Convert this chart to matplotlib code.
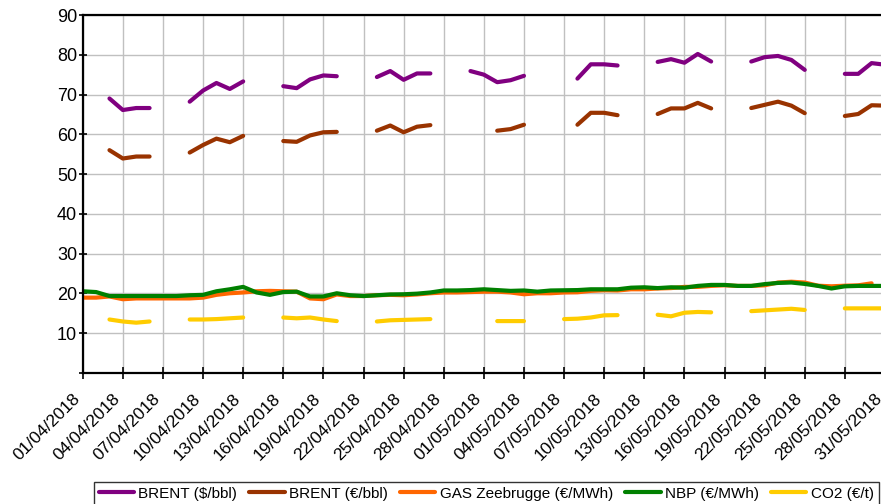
import numpy as np
import pandas as pd
import matplotlib
matplotlib.use('Agg')
import matplotlib.pyplot as plt

plt.rcParams['font.family'] = ['Liberation Sans', 'DejaVu Sans']

nan = np.nan

# daily dates, 01/04/2018 -> 31/05/2018
dates = pd.date_range('2018-04-01', '2018-05-31', freq='D')

brent_usd = [nan, nan, 69.0, 66.1, 66.6, 66.6, nan, nan, 68.2, 71.0,
             72.9, 71.4, 73.3, nan, nan, 72.1, 71.6, 73.8, 74.8, 74.6,
             nan, nan, 74.4, 75.9, 73.7, 75.3, 75.3, nan, nan, 75.9,
             75.0, 73.1, 73.6, 74.7, nan, nan, nan, 74.0, 77.6, 77.6,
             77.3, nan, nan, 78.2, 78.9, 78.0, 80.2, 78.3, nan, nan,
             78.3, 79.4, 79.7, 78.7, 76.2, nan, nan, 75.2, 75.2, 77.9,
             77.5]

brent_eur = [nan, nan, 56.0, 53.9, 54.4, 54.4, nan, nan, 55.4, 57.3,
             58.9, 58.0, 59.6, nan, nan, 58.3, 58.1, 59.7, 60.5, 60.6,
             nan, nan, 60.9, 62.2, 60.5, 61.9, 62.3, nan, nan, nan,
             nan, 60.9, 61.3, 62.4, nan, nan, nan, 62.4, 65.4, 65.4,
             64.8, nan, nan, 65.1, 66.5, 66.5, 67.9, 66.5, nan, nan,
             66.6, 67.4, 68.2, 67.2, 65.3, nan, nan, 64.6, 65.1, 67.3,
             67.2]

gas_zee = [18.9, 18.9, 19.2, 18.5, 18.7, 18.7, 18.7, 18.7, 18.7, 18.9,
           19.6, 20.0, 20.2, 20.5, 20.6, 20.5, 20.4, 18.7, 18.5, 19.7,
           19.3, 19.3, 19.5, 19.6, 19.5, 19.7, 20.0, 20.2, 20.2, 20.3,
           20.4, 20.4, 20.2, 19.75, 20.0, 20.0, 20.2, 20.25, 20.6, 20.75,
           20.7, 21.0, 21.0, 21.2, 21.3, 21.6, 21.6, 21.85, 22.0, 21.85,
           21.85, 22.0, 22.7, 22.9, 22.7, 21.9, 21.75, 21.9, 22.0, 22.5,
           nan]

nbp = [20.5, 20.3, 19.3, 19.3, 19.3, 19.3, 19.3, 19.3, 19.5, 19.6,
       20.5, 21.0, 21.6, 20.2, 19.6, 20.3, 20.4, 19.2, 19.2, 20.0,
       19.5, 19.3, 19.5, 19.7, 19.75, 19.9, 20.2, 20.7, 20.7, 20.8,
       21.0, 20.8, 20.6, 20.7, 20.4, 20.7, 20.75, 20.8, 21.0, 21.0,
       21.0, 21.4, 21.5, 21.3, 21.5, 21.4, 21.85, 22.1, 22.1, 21.85,
       21.85, 22.3, 22.6, 22.7, 22.35, 21.85, 21.2, 21.75, 21.85, 21.85,
       21.85]

co2 = [nan, nan, 13.4, 12.9, 12.6, 12.9, nan, nan, 13.4, 13.4,
       13.5, 13.7, 13.9, nan, nan, 13.9, 13.7, 13.9, 13.4, 13.0,
       nan, nan, 12.9, 13.2, 13.3, 13.4, 13.5, nan, nan, nan,
       nan, 13.0, 13.0, 13.0, nan, nan, 13.5, 13.6, 13.9, 14.45,
       14.5, nan, nan, 14.6, 14.2, 15.1, 15.3, 15.2, nan, nan,
       15.5, 15.7, 15.9, 16.1, 15.8, nan, nan, 16.2, 16.2, 16.2,
       16.2]

series = [
    ('BRENT ($/bbl)', brent_usd, '#800080'),
    ('BRENT (€/bbl)', brent_eur, '#993300'),
    ('GAS Zeebrugge (€/MWh)', gas_zee, '#FF6600'),
    ('NBP (€/MWh)', nbp, '#008000'),
    ('CO2 (€/t)', co2, '#FFCC00'),
]

fig = plt.figure(figsize=(8.81, 5.04), dpi=100)
ax = fig.add_axes([0.0939, 0.2604, 0.9106, 0.7098])

for name, vals, col in series:
    ax.plot(dates, vals, color=col, lw=3, label=name, solid_capstyle='round')

ax.set_ylim(0, 90)
ax.set_xlim(dates[0], dates[-1])
ax.set_yticks(range(0, 91, 10))
ax.set_yticklabels([''] + [str(v) for v in range(10, 91, 10)], fontsize=13)
ticks = dates[::3]
ax.set_xticks(ticks)
ax.set_xticklabels([''] * len(ticks))
# slanted date labels, placed by hand so they sit a bit left/below the tick
for d in ticks:
    ax.annotate(d.strftime('%d/%m/%Y'), xy=(d, 0), xycoords=('data', 'axes fraction'),
                xytext=(-3.6, -17), textcoords='offset points', fontsize=12.5,
                rotation=45, ha='right', va='center', rotation_mode='anchor',
                annotation_clip=False)

ax.grid(True, color='#c0c0c0', lw=1)
ax.set_axisbelow(True)
for s in ['left', 'bottom', 'top']:
    ax.spines[s].set_linewidth(1.6)
    ax.spines[s].set_color('black')
ax.spines['right'].set_visible(False)
ax.tick_params(axis='x', direction='inout', length=8, width=1.2)
ax.tick_params(axis='y', direction='inout', length=6, width=1.2, pad=1)

leg = fig.legend(loc='upper center', bbox_to_anchor=(0.552, 1 - 482 / 504),
                 ncol=5, fontsize=11, frameon=True, fancybox=False,
                 edgecolor='black', handlelength=2.3, handletextpad=0.3,
                 columnspacing=0.8, borderpad=0.3, borderaxespad=0)
leg.get_frame().set_linewidth(1)

fig.savefig('out.png', dpi=100)
